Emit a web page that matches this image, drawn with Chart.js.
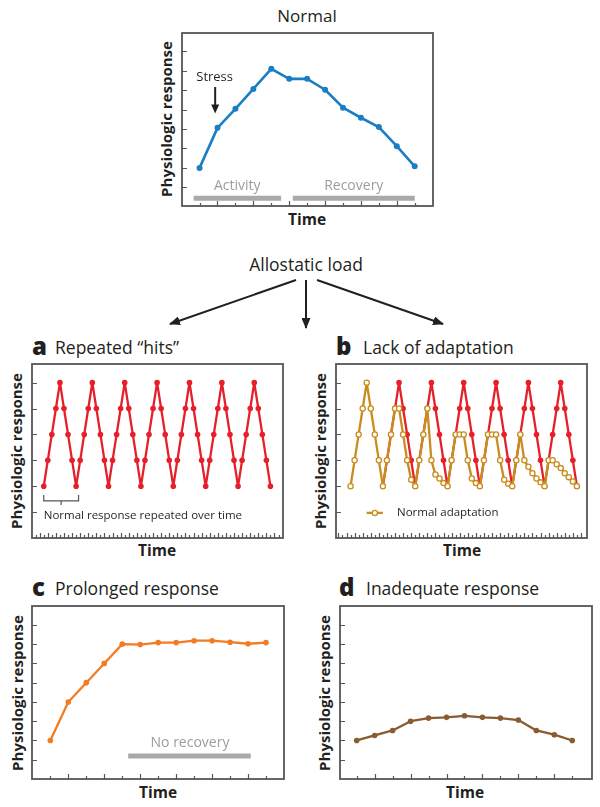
<!DOCTYPE html>
<html>
<head>
<meta charset="utf-8">
<script src="https://cdn.jsdelivr.net/npm/chart.js@4.4.1/dist/chart.umd.min.js"></script>
<style>
    body { margin: 0; width: 600px; height: 807px; position: relative; overflow: hidden; background: #fff;
           font-family: "Open Sans", sans-serif; color: #231f20; }
    .t { position: absolute; white-space: nowrap; line-height: 1; }
    .c { transform: translate(-50%, -50%); }
    .l { transform: translateY(-50%); }
    .v { transform: translate(-50%, -50%) rotate(-90deg); font-weight: bold; font-size: 15px; }
    .time { font-weight: bold; font-size: 15.5px; }
    .h { font-size: 17.5px; }
    .k { font-weight: 800; font-size: 24px; }
    canvas { position: absolute; }
</style>
</head>
<body>

<div class="t c" style="left:307px;top:15px;font-size:17px">Normal</div>
<div class="t v" style="left:166px;top:119px">Physiologic response</div>
<div class="t c time" style="left:307px;top:220px">Time</div>

<div class="t c h" style="left:306px;top:265px">Allostatic load</div>
<svg style="position:absolute;left:0;top:0" width="600" height="807">
    <defs>
        <marker id="head" markerUnits="userSpaceOnUse" markerWidth="11" markerHeight="9" refX="10" refY="4.5" orient="auto">
            <path d="M0,0 L11,4.5 L0,9 z" fill="#231f20"/>
        </marker>
    </defs>
    <g stroke="#231f20" stroke-width="2">
        <line x1="296" y1="280" x2="170" y2="324" marker-end="url(#head)"/>
        <line x1="306" y1="280" x2="306" y2="328" marker-end="url(#head)"/>
        <line x1="317" y1="280" x2="443" y2="324" marker-end="url(#head)"/>
    </g>
</svg>

<div class="t l k" style="left:32px;top:346px">a</div>
<div class="t l h" style="left:55px;top:348px">Repeated “hits”</div>
<div class="t v" style="left:16px;top:451px">Physiologic response</div>
<div class="t c time" style="left:157px;top:551px">Time</div>

<div class="t l k" style="left:336px;top:346px">b</div>
<div class="t l h" style="left:363px;top:348px">Lack of adaptation</div>
<div class="t v" style="left:320px;top:451px">Physiologic response</div>
<div class="t c time" style="left:462px;top:551px">Time</div>

<div class="t l k" style="left:32px;top:587px">c</div>
<div class="t l h" style="left:55px;top:589px">Prolonged response</div>
<div class="t v" style="left:17px;top:693px">Physiologic response</div>
<div class="t c time" style="left:158px;top:793px">Time</div>

<div class="t l k" style="left:339px;top:587px">d</div>
<div class="t l h" style="left:366px;top:589px">Inadequate response</div>
<div class="t v" style="left:324px;top:693px">Physiologic response</div>
<div class="t c time" style="left:465px;top:793px">Time</div>

<script>
// values (arbitrary response units, one point per time step)
const normalResponse = [1.0, 2.03, 2.52, 3.03, 3.55, 3.29, 3.29, 3.01, 2.55, 2.29, 2.05, 1.56, 1.04];
const prolongedResponse = [1.0, 2.0, 2.5, 3.0, 3.5, 3.49, 3.54, 3.54, 3.59, 3.59, 3.55, 3.51, 3.54];
const inadequateResponse = [1.0, 1.13, 1.26, 1.5, 1.58, 1.6, 1.64, 1.6, 1.58, 1.53, 1.26, 1.15, 1.0];

const repeatedHits = [
    2, 3, 4, 5, 6, 5, 4, 3, 2,
    3, 4, 5, 6, 5, 4, 3, 2,
    3, 4, 5, 6, 5, 4, 3, 2,
    3, 4, 5, 6, 5, 4, 3, 2,
    3, 4, 5, 6, 5, 4, 3, 2,
    3, 4, 5, 6, 5, 4, 3, 2,
    3, 4, 5, 6, 5, 4, 3, 2,
];
const lackOfAdaptation = [
    null, null, null, null, null, null, null, null, 2,
    3, 4, 5, 6, 5, 4, 3, 2,
    3, 4, 5, 6, 5, 4, 3, 2,
    3, 4, 5, 6, 5, 4, 3, 2,
    3, 4, 5, 6, 5, 4, 3, 2,
    3, 4, 5, 6, 5, 4, 3, 2,
    3, 4, 5, 6, 5, 4, 3, 2,
];
const normalAdaptation = [
    2, 3, 4, 5, 6, 5, 4, 3, 2,
    3, 4, 5, 5, 4, 3, 2.25, 2,
    3, 4, 5, 3, 2.45, 2.3, 2.12, 2,
    3, 4, 4, 4, 3, 2.3, 2.12, 2,
    3, 4, 4, 4, 3, 2.25, 2.1, 2,
    3, 4, 3, 2.75, 2.5, 2.3, 2.15, 2,
    3, 3, 2.85, 2.7, 2.5, 2.35, 2.18, 2,
];

const halfTicks = [0.5, 1, 1.5, 2, 2.5, 3, 3.5, 4];
const hitsTicks = [1, 2, 3, 4, 5, 6];
const timeTicks = [0, 1, 2, 3, 4, 5, 6, 7, 8, 9, 10, 11, 12];
const denseTimeTicks = [];
for (let i = -3; i <= 59; i++) denseTimeTicks.push(i);

const BLUE = "#1b7dc4";
const RED = "#e5202b";
const GOLD = "#c98d1e";
const ORANGE = "#f37b22";
const BROWN = "#8a5a30";
const GRAY = "#a9a9a9";
const GRAY_TEXT = "#9d9d9d";
const INK = "#231f20";
const FRAME = "#555658";
const PAD = 6;

const toPoints = (values) => values.map((v, i) => ({ x: i, y: v }));

function line(values, color, opts = {}) {
    return Object.assign({
        data: toPoints(values),
        borderColor: color,
        backgroundColor: color,
        borderWidth: 2.3,
        borderJoinStyle: "round",
        borderCapStyle: "round",
        pointRadius: 2.8,
        pointBorderWidth: 0,
        pointBackgroundColor: color,
        tension: 0,
        spanGaps: false,
    }, opts);
}

function grayBar(ctx, x, y, from, to, at) {
    ctx.strokeStyle = GRAY;
    ctx.lineWidth = 5;
    ctx.lineCap = "butt";
    ctx.beginPath();
    ctx.moveTo(x.getPixelForValue(from), y.getPixelForValue(at));
    ctx.lineTo(x.getPixelForValue(to), y.getPixelForValue(at));
    ctx.stroke();
}

function label(ctx, text, px, py, size, color, align) {
    ctx.font = size + "px 'Open Sans'";
    ctx.fillStyle = color;
    ctx.textAlign = align || "center";
    ctx.textBaseline = "middle";
    ctx.fillText(text, px, py);
}

function panel(box, xRange, yRange, yTicks, xTicks, datasets, extra) {
    const canvas = document.createElement("canvas");
    canvas.width = box[2] + PAD * 2;
    canvas.height = box[3] + PAD * 2;
    canvas.style.left = box[0] - PAD + "px";
    canvas.style.top = box[1] - PAD + "px";
    document.body.appendChild(canvas);

    const frame = {
        id: "frame",
        beforeDatasetsDraw(chart) {
            const { ctx, chartArea: a, scales: { x, y } } = chart;
            ctx.save();
            ctx.strokeStyle = FRAME;
            ctx.lineWidth = 1.2;
            ctx.beginPath();
            yTicks.forEach((v) => {
                const py = Math.round(y.getPixelForValue(v)) + 0.5;
                ctx.moveTo(a.left, py);
                ctx.lineTo(a.left + 5, py);
            });
            xTicks.forEach((v) => {
                const px = Math.round(x.getPixelForValue(v)) + 0.5;
                if (px < a.left + 2 || px > a.right - 2) return;
                const len = Math.abs(v % 2) === 1 ? 5 : 3;
                ctx.moveTo(px, a.bottom);
                ctx.lineTo(px, a.bottom - len);
            });
            ctx.stroke();
            ctx.lineWidth = 1.8;
            ctx.strokeRect(a.left, a.top, a.right - a.left, a.bottom - a.top);
            if (extra) extra(ctx, x, y);
            ctx.restore();
        },
    };

    return new Chart(canvas, {
        type: "line",
        data: { datasets: datasets },
        options: {
            responsive: false,
            animation: false,
            devicePixelRatio: 1,
            layout: { padding: PAD },
            plugins: { legend: { display: false }, tooltip: { enabled: false } },
            scales: {
                x: { type: "linear", min: xRange[0], max: xRange[1], display: false },
                y: { type: "linear", min: yRange[0], max: yRange[1], display: false },
            },
        },
        plugins: [frame],
    });
}

// Normal
panel([182, 33, 251, 173], [-0.98, 13.02], [0.02, 4.47], halfTicks, timeTicks,
    [line(normalResponse, BLUE, { borderWidth: 2.6, pointRadius: 3 })],
    (ctx, x, y) => {
        grayBar(ctx, x, y, -0.33, 4.55, 0.22);
        grayBar(ctx, x, y, 5.2, 12.0, 0.22);
        label(ctx, "Activity", x.getPixelForValue(2.1), y.getPixelForValue(0.53), 14, GRAY_TEXT);
        label(ctx, "Recovery", x.getPixelForValue(8.6), y.getPixelForValue(0.53), 14, GRAY_TEXT);
        label(ctx, "Stress", x.getPixelForValue(0.84), y.getPixelForValue(3.32), 13, INK);
        const ax = x.getPixelForValue(0.87);
        const tip = y.getPixelForValue(2.4);
        ctx.strokeStyle = INK;
        ctx.lineWidth = 2;
        ctx.beginPath();
        ctx.moveTo(ax, y.getPixelForValue(3.08));
        ctx.lineTo(ax, tip - 6);
        ctx.stroke();
        ctx.fillStyle = INK;
        ctx.beginPath();
        ctx.moveTo(ax - 4, tip - 9);
        ctx.lineTo(ax + 4, tip - 9);
        ctx.lineTo(ax, tip);
        ctx.closePath();
        ctx.fill();
    });

// a  Repeated hits
panel([32, 364, 251, 174], [-2.9, 59.1], [0, 6.72], hitsTicks, denseTimeTicks,
    [line(repeatedHits, RED)],
    (ctx, x, y) => {
        const x0 = x.getPixelForValue(0), x1 = x.getPixelForValue(8.6), xm = x.getPixelForValue(4.3);
        const yTop = y.getPixelForValue(1.66), yBar = y.getPixelForValue(1.43);
        ctx.strokeStyle = "#555";
        ctx.lineWidth = 1.2;
        ctx.beginPath();
        ctx.moveTo(x0, yTop); ctx.lineTo(x0, yBar); ctx.lineTo(x1, yBar); ctx.lineTo(x1, yTop);
        ctx.moveTo(xm, yBar); ctx.lineTo(xm, yBar + 4);
        ctx.stroke();
        label(ctx, "Normal response repeated over time", x0, y.getPixelForValue(0.85), 11.5, INK, "left");
    });

// b  Lack of adaptation (gold drawn on top of red)
panel([336, 364, 251, 174], [-3.6, 58.5], [0, 6.72], hitsTicks, denseTimeTicks,
    [
        line(normalAdaptation, GOLD, { pointBackgroundColor: "#fff", pointBorderColor: GOLD, pointBorderWidth: 1.3, pointRadius: 2.6 }),
        line(lackOfAdaptation, RED),
    ],
    (ctx, x, y) => {
        const ly = y.getPixelForValue(0.97);
        ctx.strokeStyle = GOLD;
        ctx.lineWidth = 2.3;
        ctx.beginPath();
        ctx.moveTo(x.getPixelForValue(4.0), ly);
        ctx.lineTo(x.getPixelForValue(8.0), ly);
        ctx.stroke();
        ctx.fillStyle = "#fff";
        ctx.lineWidth = 1.3;
        ctx.beginPath();
        ctx.arc(x.getPixelForValue(6.0), ly, 2.6, 0, Math.PI * 2);
        ctx.fill();
        ctx.stroke();
        label(ctx, "Normal adaptation", x.getPixelForValue(11.5), ly, 11.5, INK, "left");
    });

// c  Prolonged response
panel([32, 606, 252, 173], [-1.02, 13.0], [0, 4.49], halfTicks, timeTicks,
    [line(prolongedResponse, ORANGE)],
    (ctx, x, y) => {
        grayBar(ctx, x, y, 4.33, 11.15, 0.6);
        label(ctx, "No recovery", x.getPixelForValue(7.77), y.getPixelForValue(0.93), 14, GRAY_TEXT);
    });

// d  Inadequate response
panel([340, 606, 252, 173], [-0.93, 13.1], [0, 4.49], halfTicks, timeTicks,
    [line(inadequateResponse, BROWN)]);
</script>
</body>
</html>
